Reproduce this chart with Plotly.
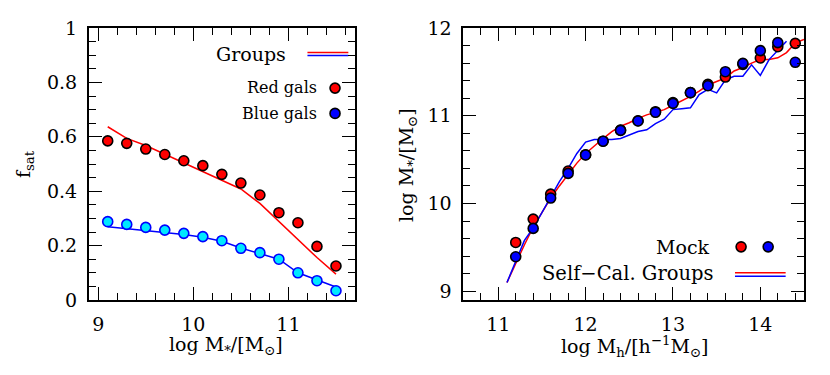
import plotly.graph_objects as go

# ---- left panel: satellite fraction vs stellar mass ----
mstar = [9.1, 9.3, 9.5, 9.7, 9.9, 10.1, 10.3, 10.5, 10.7, 10.9, 11.1, 11.3, 11.5]
fsat_red_mock = [0.585, 0.576, 0.555, 0.535, 0.512, 0.494, 0.462, 0.430, 0.386, 0.321, 0.284, 0.197, 0.125]
fsat_blue_mock = [0.288, 0.278, 0.267, 0.257, 0.245, 0.233, 0.218, 0.190, 0.174, 0.150, 0.100, 0.071, 0.034]
fsat_red_groups = [0.637, 0.594, 0.568, 0.536, 0.505, 0.473, 0.440, 0.408, 0.355, 0.289, 0.222, 0.156, 0.095]
fsat_blue_groups = [0.269, 0.262, 0.256, 0.249, 0.241, 0.231, 0.216, 0.191, 0.170, 0.150, 0.100, 0.074, 0.048]

# ---- right panel: stellar mass vs halo mass ----
mhalo_mock = [11.2, 11.4, 11.6, 11.8, 12.0, 12.2, 12.4, 12.6, 12.8, 13.0, 13.2, 13.4, 13.6, 13.8, 14.0, 14.2, 14.4]
ms_red_mock = [9.556, 9.822, 10.107, 10.37, 10.556, 10.71, 10.837, 10.943, 11.046, 11.149, 11.263, 11.358, 11.441, 11.586, 11.658, 11.787, 11.825]
ms_blue_mock = [9.393, 9.716, 10.062, 10.343, 10.553, 10.71, 10.833, 10.94, 11.039, 11.141, 11.263, 11.342, 11.502, 11.597, 11.742, 11.833, 11.609]

mhalo_red_groups = [11.1, 11.2, 11.3, 11.4, 11.5, 11.6, 11.7, 11.8, 11.9, 12.0, 12.1, 12.2, 12.3, 12.4, 12.5, 12.6, 12.7, 12.8,
                    12.9, 13.0, 13.1, 13.2, 13.3, 13.4, 13.5, 13.6, 13.7, 13.8, 13.9, 14.0, 14.1, 14.2, 14.3, 14.4, 14.5]
ms_red_groups = [9.10, 9.32, 9.53, 9.73, 9.90, 10.06, 10.20, 10.33, 10.46, 10.57, 10.66, 10.74, 10.82, 10.88, 10.92, 10.97, 11.01, 11.04,
                 11.07, 11.12, 11.17, 11.22, 11.28, 11.35, 11.39, 11.43, 11.51, 11.55, 11.60, 11.64, 11.64, 11.66, 11.72, 11.83, 11.87]
mhalo_blue_groups = [11.1, 11.2, 11.3, 11.4, 11.5, 11.6, 11.7, 11.8, 11.9, 12.0, 12.1, 12.2, 12.3, 12.4, 12.5, 12.6, 12.7, 12.8,
                     12.9, 13.0, 13.1, 13.2, 13.3, 13.4, 13.5, 13.6, 13.7, 13.8, 13.9, 14.0, 14.1, 14.2, 14.3]
ms_blue_groups = [9.10, 9.35, 9.58, 9.72, 9.90, 10.08, 10.25, 10.40, 10.57, 10.70, 10.73, 10.73, 10.73, 10.74, 10.78, 10.82, 10.84, 10.91,
                  10.96, 11.07, 11.08, 11.09, 11.24, 11.30, 11.26, 11.41, 11.45, 11.45, 11.58, 11.46, 11.64, 11.75, 11.85]

FONT = "DejaVu Serif"
RED = "#ff0000"
BLUE = "#0000ff"
CYAN = "#00e8ff"

W, H = 830, 375
OFF = 8  # page body margin: the figure is drawn 8px right and down


def px_x(p):
    return (p - OFF) / W


def px_y(p):
    return 1 - (p - OFF) / H


fig = go.Figure()


def line(x, y, color, xa, ya):
    fig.add_trace(go.Scatter(x=x, y=y, mode="lines", line=dict(color=color, width=1.5), xaxis=xa, yaxis=ya))


def dots(x, y, color, edge, xa, ya):
    fig.add_trace(go.Scatter(x=x, y=y, mode="markers", xaxis=xa, yaxis=ya,
                             marker=dict(size=10, color=color, line=dict(color=edge, width=1.6))))


# left panel
line(mstar, fsat_red_groups, RED, "x", "y")
line(mstar, fsat_blue_groups, BLUE, "x", "y")
dots(mstar, fsat_red_mock, RED, "black", "x", "y")
dots(mstar, fsat_blue_mock, CYAN, BLUE, "x", "y")

# left legend
line([11.20, 11.63], [0.910, 0.910], RED, "x", "y")
line([11.20, 11.63], [0.899, 0.899], BLUE, "x", "y")
dots([11.49], [0.779], RED, "black", "x", "y")
dots([11.49], [0.686], BLUE, "black", "x", "y")

# right panel
line(mhalo_red_groups, ms_red_groups, RED, "x2", "y2")
line(mhalo_blue_groups, ms_blue_groups, BLUE, "x2", "y2")
dots(mhalo_mock, ms_red_mock, RED, "black", "x2", "y2")
dots(mhalo_mock, ms_blue_mock, BLUE, "black", "x2", "y2")

# right legend
dots([13.78], [9.506], RED, "black", "x2", "y2")
dots([14.09], [9.506], BLUE, "black", "x2", "y2")
line([13.71, 14.29], [9.21, 9.21], RED, "x2", "y2")
line([13.71, 14.29], [9.172, 9.172], BLUE, "x2", "y2")


def axis(domain, rng, dtick, minor, anchor):
    return dict(
        domain=domain, range=rng, dtick=dtick, tick0=0, anchor=anchor, automargin=False,
        showgrid=False, zeroline=False, showline=True, linecolor="black", linewidth=1.6,
        mirror="allticks", ticks="inside", ticklen=13, tickwidth=1.3, tickcolor="black",
        minor=dict(dtick=minor, ticks="inside", ticklen=7, tickwidth=1.3, tickcolor="black", tick0=0),
        tickfont=dict(family=FONT, size=19, color="black"), ticklabelstandoff=6,
    )


fig.update_layout(
    width=W, height=H,
    margin=dict(l=0, r=0, t=0, b=0, autoexpand=False),
    paper_bgcolor="white", plot_bgcolor="white",
    showlegend=False,
    xaxis=axis([px_x(88.7), px_x(355)], [8.9, 11.7], 1, 0.2, "y"),
    yaxis=axis([px_y(300), px_y(28)], [0, 1], 0.2, 0.05, "x"),
    xaxis2=axis([px_x(463.3), px_x(804)], [10.6, 14.5], 1, 0.2, "y2"),
    yaxis2=axis([px_y(300), px_y(28)], [8.9, 12], 1, 0.2, "x2"),
)
fig.update_yaxes(tickformat="~g")

# axis titles, placed at the reference's pixel positions
titles = [
    (226, 345, "log M<sub>*</sub>/[M<sub>⊙</sub>]", 0),
    (634, 346, "log M<sub>h</sub>/[h<sup>−1</sup>M<sub>⊙</sub>]", 0),
    (25, 164, "f<sub>sat</sub>", -90),
    (407, 165, "log M<sub>*</sub>/[M<sub>⊙</sub>]", -90),
]
for x, y, text, ang in titles:
    fig.add_annotation(x=px_x(x), y=px_y(y), xref="paper", yref="paper", text=text, textangle=ang,
                       showarrow=False, xanchor="center", yanchor="middle",
                       font=dict(family=FONT, size=19, color="black"))

annots = [
    (11.0, 0.905, "x", "y", "Groups", 19),
    (11.32, 0.782, "x", "y", "Red gals", 16),
    (11.32, 0.686, "x", "y", "Blue gals", 16),
    (13.45, 9.506, "x2", "y2", "Mock", 19),
    (13.49, 9.20, "x2", "y2", "Self\u2212Cal. Groups", 19.5),
]
for x, y, xr, yr, text, size in annots:
    fig.add_annotation(x=x, y=y, xref=xr, yref=yr, text=text,
                       showarrow=False, xanchor="right", yanchor="middle",
                       font=dict(family=FONT, size=size, color="black"))

fig.write_html("out.html")
